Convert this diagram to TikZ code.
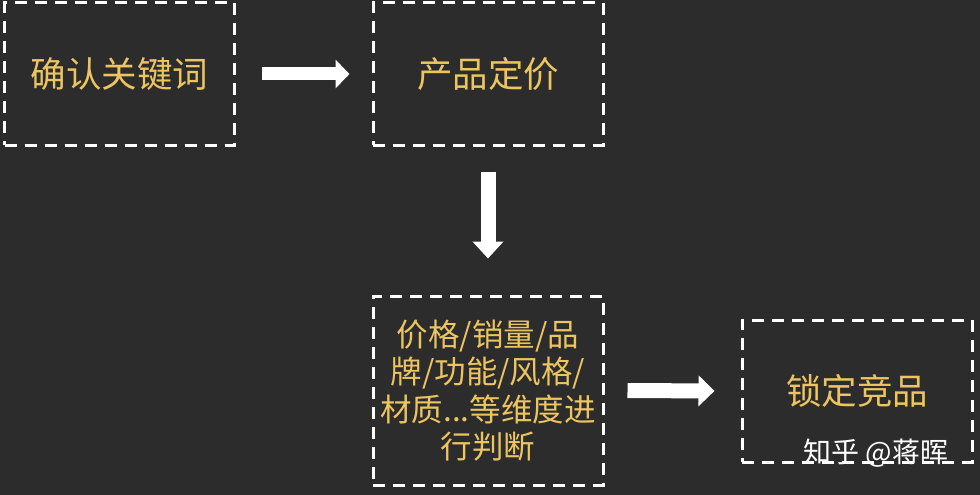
\documentclass[tikz,border=0pt]{standalone}
\usepackage{fontspec}
\newfontfamily\cjk{Noto Sans CJK SC}
\usetikzlibrary{arrows.meta}
\definecolor{board}{RGB}{44,44,44}
\definecolor{gold}{RGB}{236,196,96}
\tikzset{
  x=1pt, y=-1pt,
  stagebox/.style={draw=white, line width=3pt, dash pattern=on 12pt off 8pt,
    minimum width=230pt, minimum height=142pt, inner sep=0pt,
    text=gold, font=\cjk\fontsize{35.5}{40}\selectfont, align=center},
  blockarrow/.style={draw=white, line width=#1},
}
\begin{document}
\begin{tikzpicture}
\fill[board] (0,0) rectangle (980,495);
\useasboundingbox (0,0) rectangle (980,495);
\node[stagebox] (b1) at (119.5,74) {确认关键词};
\node[stagebox] (b2) at (488,74) {产品定价};
\node[stagebox, minimum height=189pt, font=\cjk\fontsize{31.5}{37.5}\selectfont] (b3) at (488,390.5)
  {价格/销量/品\\牌/功能/风格/\\材质...等维度进\\行判断};
\node[stagebox] (b4) at (857,391) {锁定竞品};
\draw[blockarrow=13pt, -{Triangle[width=28pt,length=14pt]}, shorten <=26pt, shorten >=22pt]
  (b1.east) -- (b2.west);
\draw[blockarrow=15pt, -{Triangle[width=30pt,length=17pt]}, shorten <=25pt, shorten >=36pt]
  (b2.south) -- (b3.north);
\draw[blockarrow=15pt, -{Triangle[width=30pt,length=16pt]}, shorten <=23pt, shorten >=26pt]
  (b3.east) -- (b4.west);
\node[text=white, font=\cjk\fontsize{28}{30}\selectfont, inner sep=0pt] (wm) at (876,453) {知乎 @蒋晖};
\end{tikzpicture}
\end{document}
